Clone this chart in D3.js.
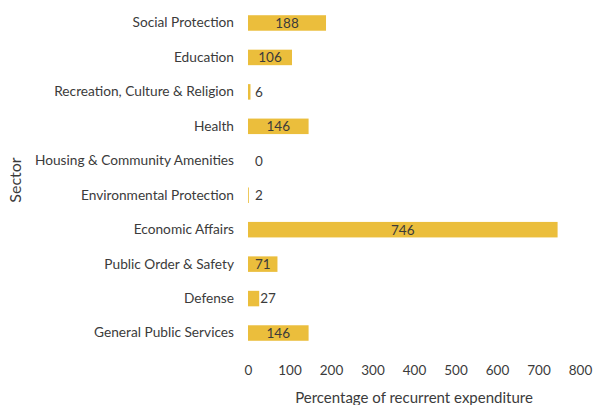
<!DOCTYPE html>
<html>
<head>
<meta charset="utf-8">
<script src="https://cdn.jsdelivr.net/npm/d3@7"></script>
<style>
  body { margin: 0; background: #fff; }
  text { font-family: Lato, "Open Sans", sans-serif; fill: #3b3b3b; }
</style>
</head>
<body>
<svg id="chart" width="595" height="405"></svg>
<script>
  // chart data (top row first)
  const sectors = [
    "Social Protection",
    "Education",
    "Recreation, Culture & Religion",
    "Health",
    "Housing & Community Amenities",
    "Environmental Protection",
    "Economic Affairs",
    "Public Order & Safety",
    "Defense",
    "General Public Services"
  ];
  const values = [188, 106, 6, 146, 0, 2, 746, 71, 27, 146];
  const xTicks = [0, 100, 200, 300, 400, 500, 600, 700, 800];

  const svg = d3.select("#chart");

  const x = d3.scaleLinear().domain([0, 800]).range([248, 580]);
  const y = d3.scaleBand().domain(sectors).range([-2, 358])
    .paddingInner(0.55).paddingOuter(0.5);

  const rows = sectors.map((s, i) => ({ sector: s, value: values[i] }));

  // bars
  svg.append("g").selectAll("rect")
    .data(rows)
    .join("rect")
    .attr("x", x(0))
    .attr("y", d => y(d.sector))
    .attr("width", d => x(d.value) - x(0))
    .attr("height", y.bandwidth())
    .attr("fill", "#ebbe3c");

  // value labels: centred in long bars, just right of short ones
  svg.append("g").selectAll("text")
    .data(rows)
    .join("text")
    .attr("x", d => d.value >= 50 ? (x(d.value) + x(0)) / 2 : Math.max(x(d.value) + 1, x(0) + 7))
    .attr("y", d => y(d.sector) + y.bandwidth() / 2)
    .attr("dy", "0.36em")
    .attr("text-anchor", d => d.value >= 50 ? "middle" : "start")
    .attr("font-size", 13.5)
    .text(d => d.value);

  // y axis (labels only)
  const yAxis = svg.append("g")
    .attr("transform", `translate(${x(0)},0)`)
    .call(d3.axisLeft(y).tickSize(0).tickPadding(14));
  yAxis.select(".domain").remove();
  yAxis.selectAll("text").attr("font-size", 13.7).style("font-family", "Lato, 'Open Sans', sans-serif").attr("fill", "#3b3b3b");

  // x axis (labels only)
  const xAxis = svg.append("g")
    .attr("transform", "translate(0,365)")
    .call(d3.axisBottom(x).tickValues(xTicks).tickSize(0).tickPadding(0));
  xAxis.select(".domain").remove();
  xAxis.selectAll("text").attr("font-size", 13.5).style("font-family", "Lato, 'Open Sans', sans-serif").attr("fill", "#3b3b3b");

  // axis titles
  svg.append("text")
    .attr("x", (x(0) + x(800)) / 2)
    .attr("y", 403)
    .attr("text-anchor", "middle")
    .attr("font-size", 15)
    .text("Percentage of recurrent expenditure");

  svg.append("text")
    .attr("transform", "translate(21,180) rotate(-90)")
    .attr("text-anchor", "middle")
    .attr("font-size", 16)
    .text("Sector");
</script>
</body>
</html>
